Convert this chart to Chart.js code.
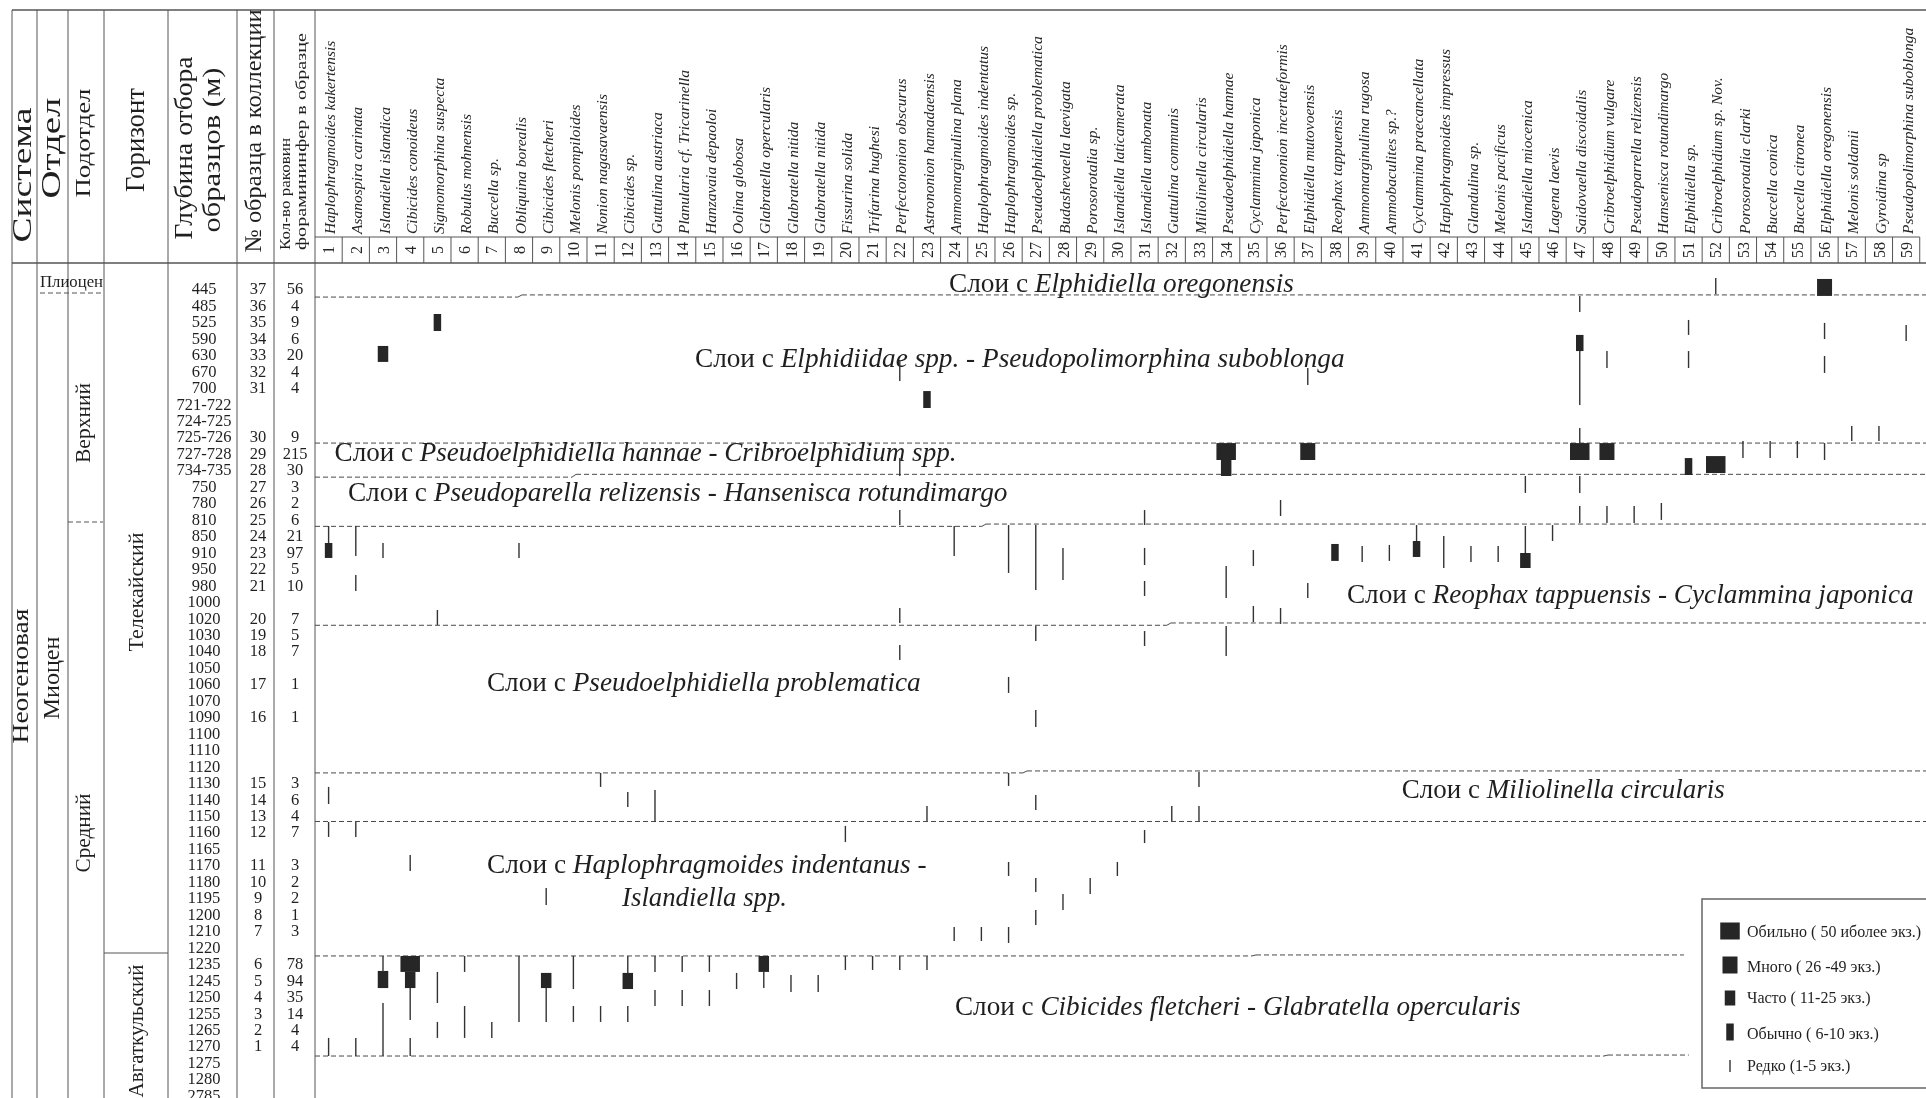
<!doctype html>
<html lang="ru">
<head>
<meta charset="utf-8">
<title>Распределение фораминифер по разрезу</title>
<script src="https://cdn.jsdelivr.net/npm/chart.js@4.4.0/dist/chart.umd.min.js"></script>
<style>
  html, body { margin: 0; padding: 0; background: #fff; overflow: hidden; }
  #wrap { width: 1926px; height: 1098px; }
</style>
</head>
<body>
<div id="wrap"><canvas id="chart" width="1926" height="1098"></canvas></div>
<script>
// --- rows of the section (one per depth label) ---
const depths = ['445', '485', '525', '590', '630', '670', '700', '721-722', '724-725', '725-726',
  '727-728', '734-735', '750', '780', '810', '850', '910', '950', '980', '1000',
  '1020', '1030', '1040', '1050', '1060', '1070', '1090', '1100', '1110', '1120',
  '1130', '1140', '1150', '1160', '1165', '1170', '1180', '1195', '1200', '1210',
  '1220', '1235', '1245', '1250', '1255', '1265', '1270', '1275', '1280', '2785'];
const sampleNos = ['37', '36', '35', '34', '33', '32', '31', '', '', '30',
  '29', '28', '27', '26', '25', '24', '23', '22', '21', '',
  '20', '19', '18', '', '17', '', '16', '', '', '',
  '15', '14', '13', '12', '', '11', '10', '9', '8', '7',
  '', '6', '5', '4', '3', '2', '1', '', '', ''];
const counts = ['56', '4', '9', '6', '20', '4', '4', '', '', '9',
  '215', '30', '3', '2', '6', '21', '97', '5', '10', '',
  '7', '5', '7', '', '1', '', '1', '', '', '',
  '3', '6', '4', '7', '', '3', '2', '2', '1', '3',
  '', '78', '94', '35', '14', '4', '4', '', '', ''];

// --- species (columns 1..59) ---
const species = ['Haplophragmoides kakertensis', 'Asanospira carinata', 'Islandiella islandica',
  'Cibicides conoideus', 'Sigmomorphina suspecta', 'Robulus mohnensis', 'Buccella sp.',
  'Obliquina borealis', 'Cibicides fletcheri', 'Melonis pompiloides', 'Nonion nagasavaensis',
  'Cibicides sp.', 'Guttulina austriaca', 'Planularia cf. Tricarinella', 'Hanzavaia depaoloi',
  'Oolina globosa', 'Glabratella opercularis', 'Glabratella nitida', 'Glabratella nitida',
  'Fissurina solida', 'Trifarina hughesi', 'Perfectononion obscurus', 'Astrononion hamadaensis',
  'Ammomarginulina plana', 'Haplophragmoides indentatus', 'Haplophragmoides sp.',
  'Pseudoelphidiella problematica', 'Budashevaella laevigata', 'Porosorotalia sp.',
  'Islandiella laticamerata', 'Islandiella umbonata', 'Guttulina communis',
  'Miliolinella circularis', 'Pseudoelphidiella hannae', 'Cyclammina japonica',
  'Perfectononion incertaeformis', 'Elphidiella mutovoensis', 'Reophax tappuensis',
  'Ammomarginulina rugosa', 'Ammobaculites sp.?', 'Cyclammina praecancellata',
  'Haplophragmoides impressus', 'Glandulina sp.', 'Melonis pacificus', 'Islandiella miocenica',
  'Lagena laevis', 'Saidovaella discoidalis', 'Cribroelphidium vulgare',
  'Pseudoparrella relizensis', 'Hansenisca rotundimargo', 'Elphidiella sp.',
  'Cribroelphidium sp. Nov.', 'Porosorotalia clarki', 'Buccella conica', 'Buccella citronea',
  'Elphidiella oregonensis', 'Melonis soldanii', 'Gyroidina sp', 'Pseudopolimorphina suboblonga'];

// --- occurrences: [species no., from row, to row] ---
const rare = [ // Редко (1-5)
  [52, -0.73, 0.24], [47, 0.36, 1.34], [51, 1.82, 2.73], [56, 2.0, 2.98], [59, 2.13, 3.1],
  [47, 3.71, 6.99], [48, 3.71, 4.74], [51, 3.71, 4.74], [56, 4.01, 5.04], [22, 4.25, 5.53],
  [37, 4.74, 5.77], [47, 8.38, 9.3], [57, 8.26, 9.17], [58, 8.26, 9.17], [53, 9.17, 10.21],
  [54, 9.17, 10.21], [55, 9.17, 10.21], [56, 9.3, 10.33], [22, 10.21, 11.3], [45, 11.3, 12.33],
  [47, 11.3, 12.33], [36, 12.76, 13.73], [47, 13.12, 14.16], [48, 13.12, 14.16], [49, 13.12, 14.16],
  [50, 12.94, 13.97], [31, 13.37, 14.28], [22, 13.37, 14.28], [1, 14.34, 15.37], [2, 14.34, 16.16],
  [2, 17.31, 18.29], [3, 15.37, 16.28], [8, 15.37, 16.28], [5, 19.44, 20.35], [22, 19.32, 20.23],
  [22, 21.57, 22.48], [24, 14.34, 16.16], [26, 14.28, 17.19], [27, 14.28, 18.23], [28, 15.67, 17.62],
  [27, 20.41, 21.32], [26, 23.51, 24.48], [27, 25.52, 26.55], [31, 15.67, 16.71], [35, 15.8, 16.77],
  [34, 16.77, 18.71], [31, 17.68, 18.59], [37, 17.8, 18.71], [35, 19.2, 20.17], [36, 19.32, 20.29],
  [31, 20.72, 21.63], [34, 20.41, 22.24], [39, 15.55, 16.52], [40, 15.49, 16.46], [41, 14.28, 15.25],
  [42, 14.95, 16.89], [43, 15.55, 16.52], [44, 15.55, 16.52], [45, 14.34, 15.98], [46, 14.28, 15.25],
  [11, 29.34, 30.19], [26, 29.34, 30.13], [33, 29.28, 30.19], [1, 30.19, 31.23], [12, 30.5, 31.41],
  [13, 30.38, 32.32], [23, 31.35, 32.26], [27, 30.68, 31.59], [32, 31.35, 32.26], [33, 31.35, 32.26],
  [1, 32.32, 33.23], [2, 32.32, 33.23], [20, 32.56, 33.54], [31, 32.81, 33.6], [4, 34.33, 35.3],
  [9, 36.33, 37.36], [26, 34.75, 35.6], [27, 35.72, 36.57], [28, 36.7, 37.67], [29, 35.72, 36.7],
  [30, 34.75, 35.6], [27, 37.67, 38.58], [24, 38.7, 39.55], [25, 38.7, 39.55], [26, 38.7, 39.67],
  [3, 40.46, 41.43], [3, 43.32, 46.54], [4, 42.41, 44.35], [4, 45.44, 46.54], [5, 41.43, 43.32],
  [5, 44.47, 45.44], [6, 40.46, 41.43], [6, 43.5, 45.44], [7, 44.47, 45.44], [8, 40.46, 44.47],
  [9, 42.41, 44.47], [10, 40.46, 42.47], [10, 43.5, 44.47], [11, 43.5, 44.47], [12, 40.46, 41.49],
  [12, 43.5, 44.47], [13, 40.46, 41.43], [13, 42.53, 43.5], [14, 40.46, 41.43], [14, 42.53, 43.5],
  [15, 40.46, 41.43], [15, 42.53, 43.5], [16, 41.49, 42.47], [17, 41.43, 42.41], [18, 41.62, 42.65],
  [19, 41.62, 42.65], [20, 40.46, 41.31], [21, 40.46, 41.31], [22, 40.46, 41.31], [23, 40.46, 41.31],
  [1, 45.44, 46.54], [2, 45.44, 46.54]];
const common = [ // Обычно (6-10)
  [5, 1.46, 2.49], [23, 6.14, 7.17], [47, 2.73, 3.71], [51, 10.21, 11.24], [1, 15.37, 16.28],
  [38, 15.43, 16.46], [41, 15.25, 16.22]];
const frequent = [ // Часто (11-25)
  [3, 3.4, 4.37], [34, 10.33, 11.3], [45, 15.98, 16.89], [3, 41.37, 42.41], [4, 41.43, 42.41],
  [9, 41.49, 42.41], [12, 41.49, 42.47], [17, 40.46, 41.43]];
const many = [ // Много (26-49)
  [56, -0.67, 0.36], [37, 9.3, 10.33], [48, 9.3, 10.33]];
const abundant = [ // Обильно (50 и более)
  [34, 9.3, 10.33], [47, 9.3, 10.33], [52, 10.09, 11.12], [4, 40.46, 41.43]];

const levels = ['Обильно ( 50 иболее экз.)', 'Много ( 26 -49 экз.)', 'Часто ( 11-25 экз.)',
  'Обычно ( 6-10 экз.)', 'Редко (1-5 экз.)'];

// --- layers with characteristic species ---
const layerNames = ['Elphidiella oregonensis', 'Elphidiidae spp. - Pseudopolimorphina suboblonga',
  'Pseudoelphidiella hannae - Cribroelphidium spp.', 'Pseudoparella relizensis - Hansenisca rotundimargo',
  'Reophax tappuensis - Cyclammina japonica', 'Pseudoelphidiella problematica',
  'Miliolinella circularis', 'Haplophragmoides indentanus -|Islandiella spp.',
  'Cibicides fletcheri - Glabratella opercularis'];
// layer boundaries, row value on the left / right part of the line
const layerBounds = [[0.43, 0.3], [9.3, 9.3], [11.37, 11.2], [14.36, 14.22], [20.37, 20.23],
  [29.34, 29.22], [32.29, 32.29], [40.46, 40.4], [46.54, 46.48]];

// ---------- drawing helpers ----------
const SERIF = '"Liberation Serif", "DejaVu Serif", serif';
const INK = '#1f1f1f';
const RULE = '#555';

function vText(ctx, text, x, y, size, len, align) {
  ctx.save();
  ctx.translate(x, y);
  ctx.rotate(-Math.PI / 2);
  ctx.font = size + 'px ' + SERIF;
  ctx.textAlign = align || 'center';
  ctx.textBaseline = 'middle';
  if (len) ctx.scale(len / ctx.measureText(text).width, 1);
  ctx.fillText(text, 0, 0);
  ctx.restore();
}

function line(ctx, x1, y1, x2, y2) {
  ctx.beginPath();
  ctx.moveTo(x1, y1);
  ctx.lineTo(x2, y2);
  ctx.stroke();
}

function layerText(ctx, x, y, name, width, prefix) {
  const pre = prefix ? 'Слои с ' : '';
  ctx.font = '26px ' + SERIF;
  const w1 = ctx.measureText(pre).width;
  ctx.font = 'italic 26px ' + SERIF;
  const w2 = ctx.measureText(name).width;
  const fs = 26 * width / (w1 + w2);
  ctx.textAlign = 'left';
  ctx.textBaseline = 'middle';
  ctx.font = fs + 'px ' + SERIF;
  ctx.fillText(pre, x, y);
  const off = ctx.measureText(pre).width;
  ctx.font = 'italic ' + fs + 'px ' + SERIF;
  ctx.fillText(name, x + off, y);
}

// label placement of the layers: [col, row, width] (+ second line)
const layerPos = [[23.81, -0.3, 345], [14.47, 4.25, 650], [1.22, 9.96, 622], [1.71, 12.36, 660],
  [38.44, 18.56, 567], [6.82, 23.94, 434], [40.46, 30.44, 323], [6.82, 34.99, 440, 11.79, 36.97, 165],
  [24.03, 43.59, 566]];
const boundJog = [7.96, null, 9.95, 25.02, 31.82, 26.53, null, 34.95, 47.89];
const boundEnd = [null, null, null, null, null, null, null, 50.83, 51.01];

const tablePlugin = {
  id: 'table',
  beforeDraw(chart) {
    const ctx = chart.ctx;
    ctx.save();
    ctx.fillStyle = '#fff';
    ctx.fillRect(0, 0, chart.width, chart.height);
    ctx.restore();
  },
  beforeDatasetsDraw(chart) {
    const {ctx, scales: {x, y}} = chart;
    const W = chart.width, H = chart.height;
    ctx.save();

    // table frame
    ctx.strokeStyle = RULE;
    ctx.lineWidth = 1.4;
    line(ctx, 12, 10, W, 10);
    line(ctx, 12, 263, W, 263);
    ctx.lineWidth = 1;
    [12, 37, 68, 104, 168, 237, 274, 315].forEach(px => line(ctx, px, 10, px, H));
    const colRight = x.getPixelForValue(species.length + 0.5);
    line(ctx, 315, 237, colRight, 237);
    for (let k = 1; k <= species.length; k++) {
      const px = x.getPixelForValue(k + 0.5);
      line(ctx, px, 237, px, 263);
    }
    line(ctx, 104, 953, 168, 953);
    ctx.setLineDash([5, 3]);
    line(ctx, 40, 293, 103, 293);
    line(ctx, 68, 522, 103, 522);
    ctx.setLineDash([]);

    // left headers
    ctx.fillStyle = INK;
    vText(ctx, 'Система', 24, 175, 28, 135);
    vText(ctx, 'Отдел', 53, 148, 28, 101);
    vText(ctx, 'Подотдел', 84, 143, 22, 109);
    vText(ctx, 'Горизонт', 137, 140, 27, 104);
    vText(ctx, 'Глубина отбора', 185, 148, 25, 183);
    vText(ctx, 'образцов (м)', 213, 150, 25, 165);
    vText(ctx, '№ образца в коллекции', 255, 131, 24, 243);
    vText(ctx, 'Кол-во раковин', 286, 250, 15, 112, 'left');
    vText(ctx, 'форамининфер в образце', 302, 250, 15, 217, 'left');

    // stratigraphic columns
    ctx.font = '16px ' + SERIF;
    ctx.textAlign = 'left';
    ctx.textBaseline = 'middle';
    ctx.save();
    ctx.translate(40, 283);
    ctx.scale(63 / ctx.measureText('Плиоцен').width, 1);
    ctx.fillText('Плиоцен', 0, 0);
    ctx.restore();
    vText(ctx, 'Неогеновая', 22, 676, 24, 135);
    vText(ctx, 'Миоцен', 53, 678, 24, 83);
    vText(ctx, 'Верхний', 84, 423, 22, 80);
    vText(ctx, 'Средний', 84, 833, 22, 79);
    vText(ctx, 'Телекайский', 137, 592, 22, 119);
    vText(ctx, 'Авгаткульский', 137, 1031, 22, 133);

    // species names and numbers
    ctx.fillStyle = '#262626';
    species.forEach((name, i) => {
      const cx = x.getPixelForValue(i + 1);
      ctx.save();
      ctx.translate(cx + 2.5, 234);
      ctx.rotate(-Math.PI / 2);
      ctx.font = 'italic 15.5px ' + SERIF;
      ctx.textAlign = 'left';
      ctx.textBaseline = 'middle';
      ctx.fillText(name, 0, 0);
      ctx.restore();
      vText(ctx, String(i + 1), cx + 1.5, 250, 16);
    });

    // depth / sample / count columns
    ctx.fillStyle = INK;
    ctx.font = '16.5px ' + SERIF;
    ctx.textAlign = 'center';
    ctx.textBaseline = 'middle';
    depths.forEach((d, i) => {
      const py = y.getPixelForValue(i);
      ctx.fillText(d, 204, py);
      if (sampleNos[i]) ctx.fillText(sampleNos[i], 258, py);
      if (counts[i]) ctx.fillText(counts[i], 295, py);
    });

    // layer boundaries
    ctx.strokeStyle = '#4a4a4a';
    ctx.lineWidth = 1;
    layerBounds.forEach((b, i) => {
      const xl = x.left;
      const xr = boundEnd[i] ? x.getPixelForValue(boundEnd[i]) : x.right;
      const yl = y.getPixelForValue(b[0]);
      const yr = y.getPixelForValue(b[1]);
      ctx.setLineDash([5, 3]);
      if (boundJog[i]) {
        const xj = x.getPixelForValue(boundJog[i]);
        line(ctx, xl, yl, xj, yl);
        line(ctx, xj + 4, yr, xr, yr);
        ctx.setLineDash([]);
        line(ctx, xj, yl, xj + 4, yr);
      } else {
        line(ctx, xl, yl, xr, yl);
      }
    });
    ctx.setLineDash([]);

    // layer labels
    ctx.fillStyle = INK;
    layerNames.forEach((name, i) => {
      const p = layerPos[i];
      const parts = name.split('|');
      layerText(ctx, x.getPixelForValue(p[0]), y.getPixelForValue(p[1]), parts[0], p[2], true);
      if (parts[1]) layerText(ctx, x.getPixelForValue(p[3]), y.getPixelForValue(p[4]), parts[1], p[5], false);
    });
    ctx.restore();
  },
  afterDatasetsDraw(chart) {
    const ctx = chart.ctx;
    ctx.save();
    ctx.fillStyle = '#fff';
    ctx.fillRect(1702, 899, 260, 189);
    ctx.strokeStyle = '#666';
    ctx.lineWidth = 1.5;
    ctx.strokeRect(1702, 899, 260, 189);
    const order = [4, 3, 2, 1, 0];       // dataset index for each legend row
    const sy = [931, 965, 998, 1032, 1066];
    const sh = [17, 17, 15, 17, 12];
    const ty = [933, 968, 999, 1035, 1067];
    ctx.font = '16px ' + SERIF;
    ctx.textAlign = 'left';
    ctx.textBaseline = 'middle';
    levels.forEach((lab, i) => {
      const ds = chart.data.datasets[order[i]];
      const w = ds.maxBarThickness;
      ctx.fillStyle = ds.backgroundColor;
      ctx.fillRect(1730 - w / 2, sy[i] - sh[i] / 2, w, sh[i]);
      ctx.fillStyle = INK;
      ctx.fillText(lab, 1747, ty[i]);
    });
    ctx.restore();
  }
};

const toBars = list => list.map(([c, a, b]) => ({x: c, y: [a, b]}));

new Chart(document.getElementById('chart'), {
  type: 'bar',
  data: {
    datasets: [
      {label: levels[4], data: toBars(rare), maxBarThickness: 1.4, backgroundColor: '#333'},
      {label: levels[3], data: toBars(common), maxBarThickness: 7.5, backgroundColor: '#262626'},
      {label: levels[2], data: toBars(frequent), maxBarThickness: 10.5, backgroundColor: '#262626'},
      {label: levels[1], data: toBars(many), maxBarThickness: 15, backgroundColor: '#262626'},
      {label: levels[0], data: toBars(abundant), maxBarThickness: 19.5, backgroundColor: '#262626'}
    ]
  },
  options: {
    responsive: false,
    animation: false,
    devicePixelRatio: 1,
    events: [],
    layout: {padding: {left: 315, top: 263, right: 0, bottom: 0}},
    datasets: {
      bar: {grouped: false, barPercentage: 1, categoryPercentage: 1, borderWidth: 0, inflateAmount: 0}
    },
    scales: {
      x: {type: 'linear', min: 0.5, max: 59.73, offset: false, grid: {offset: false}, display: false},
      y: {type: 'linear', min: -1.64, max: 49.09, reverse: true, offset: false, display: false}
    },
    plugins: {
      legend: {display: false},
      tooltip: {enabled: false}
    }
  },
  plugins: [tablePlugin]
});
</script>
</body>
</html>
